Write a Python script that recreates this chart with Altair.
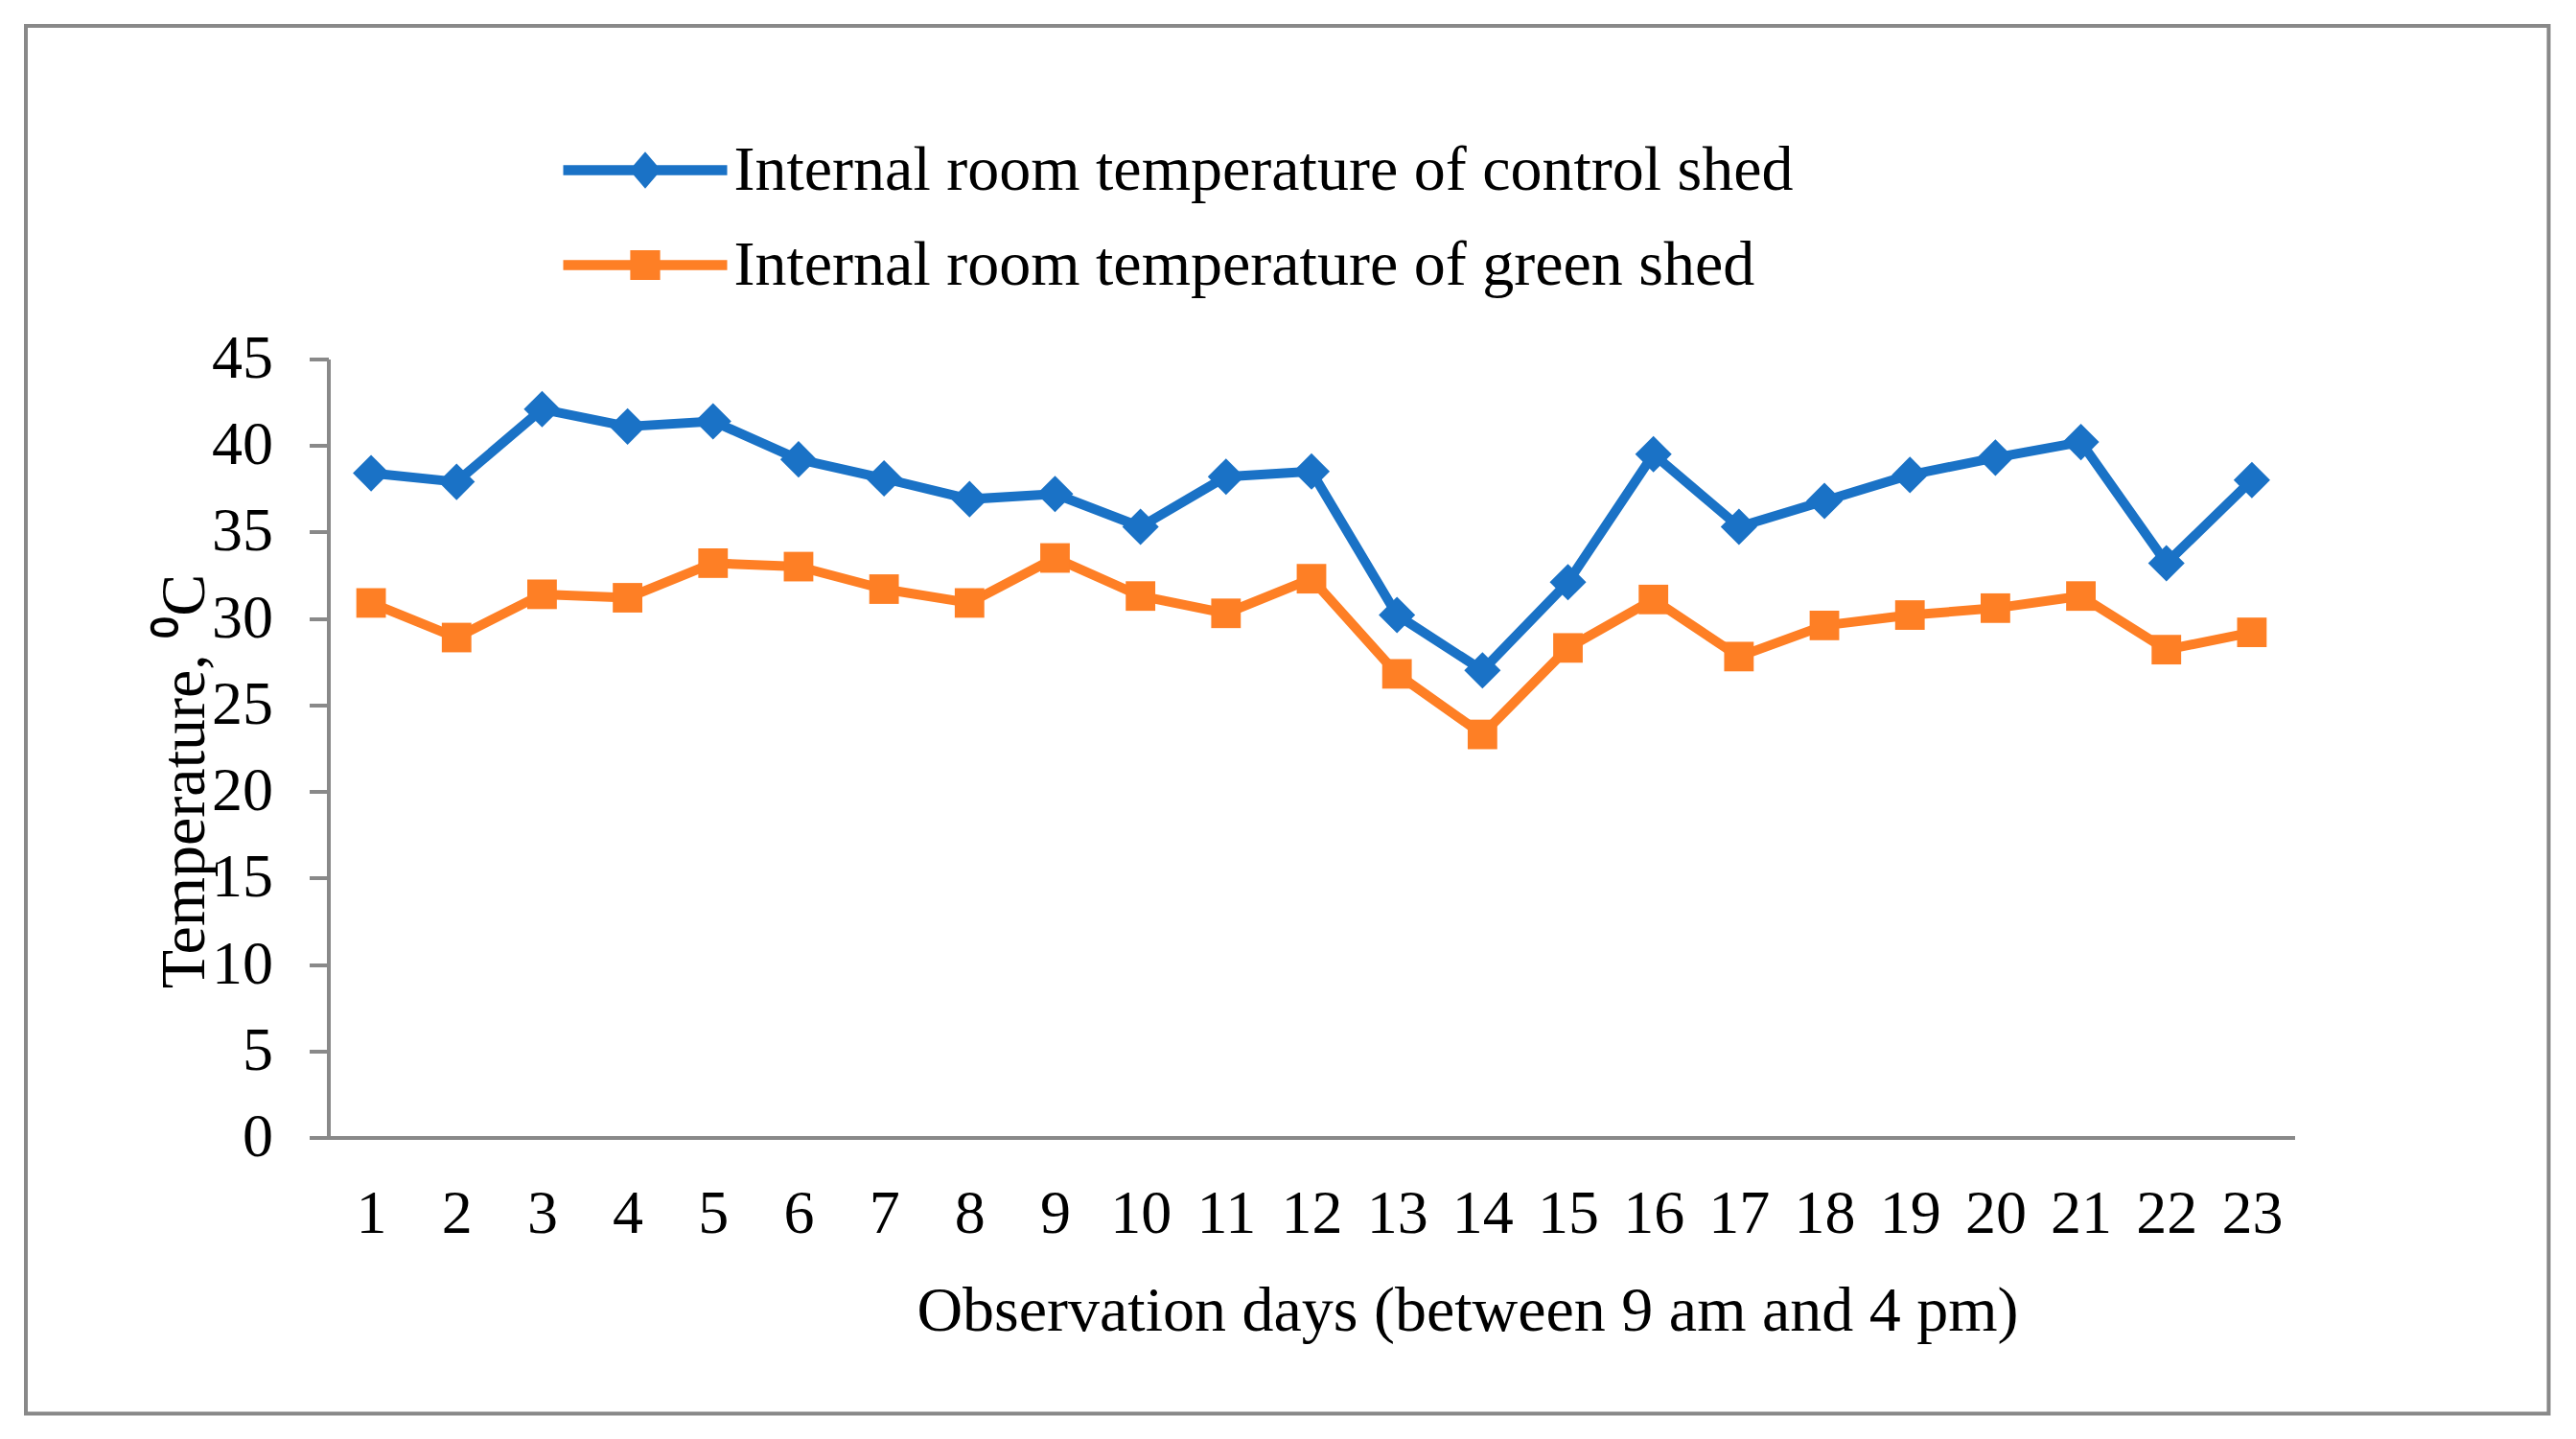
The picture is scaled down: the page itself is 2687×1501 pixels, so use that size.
import altair as alt
import pandas as pd

# ---- data ----
days = list(range(1, 24))
control_shed = [38.4, 37.9, 42.1, 41.1, 41.4, 39.2, 38.1, 36.9, 37.2, 35.3, 38.2, 38.5,
                30.2, 27.0, 32.1, 39.5, 35.3, 36.8, 38.3, 39.3, 40.2, 33.2, 38.0]
green_shed = [30.9, 28.9, 31.4, 31.2, 33.2, 33.0, 31.7, 30.9, 33.5, 31.3, 30.3, 32.3,
              26.8, 23.3, 28.3, 31.1, 27.8, 29.6, 30.2, 30.6, 31.3, 28.2, 29.2]
series_names = ["Internal room temperature of control shed",
                "Internal room temperature of green shed"]
y_ticks = list(range(0, 46, 5))
x_title = "Observation days (between 9 am and 4 pm)"
y_title = "Temperature, \u2070C"

# ---- style ----
BLUE = "#1a72c6"
ORANGE = "#fe7f25"
GRAY = "#898989"
FONT = "Liberation Serif"
W, H = 2051, 812

df = pd.DataFrame({
    "day": days + days,
    "temp": control_shed + green_shed,
    "series": [series_names[0]] * len(days) + [series_names[1]] * len(days),
})

# legend glyphs: line segment with marker on it (custom symbol paths)
path_control = ("M-1,-0.175L4.7,-0.175L4.7,0.175L-1,0.175Z "
                "M1.3,0L1.85,-0.64L2.4,0L1.85,0.64Z")
path_green = ("M-1,-0.175L4.7,-0.175L4.7,0.175L-1,0.175Z "
              "M1.33,-0.52L2.37,-0.52L2.37,0.52L1.33,0.52Z")

x_enc = alt.X(
    "day:O",
    scale=alt.Scale(type="point", padding=0.5),
    axis=alt.Axis(
        title=x_title, labelAngle=0, ticks=False, tickSize=0, labelPadding=48,
        labelFontSize=64, labelColor="black", labelFont=FONT,
        domainColor=GRAY, domainWidth=4,
        titleFont=FONT, titleFontSize=66, titleFontWeight="normal", titleColor="black",
        titleX=1188, titleY=201, titleBaseline="alphabetic", titleAlign="center",
        grid=False,
    ),
)
y_enc = alt.Y(
    "temp:Q",
    scale=alt.Scale(domain=[0, 45], nice=False, zero=True),
    axis=alt.Axis(
        values=y_ticks, title=y_title, grid=False,
        tickSize=20, tickWidth=4, tickColor=GRAY, domainColor=GRAY, domainWidth=4,
        labelPadding=38, labelFontSize=64, labelColor="black", labelFont=FONT,
        titleFont=FONT, titleFontSize=66, titleFontWeight="normal", titleColor="black",
        titleAngle=270, titleX=-130, titleY=440, titleBaseline="alphabetic",
        titleAlign="center",
    ),
)

base = alt.Chart(df)

frame = alt.Chart(pd.DataFrame({"frame": [0]})).mark_rect(
    fill="transparent", stroke=GRAY, strokeWidth=4
).encode(
    x=alt.value(-315.5), x2=alt.value(2316), y=alt.value(-347.5), y2=alt.value(1100)
)

line_c = base.transform_filter(alt.datum.series == series_names[0]).mark_line(
    color=BLUE, strokeWidth=10, strokeJoin="round", strokeCap="round"
).encode(x=x_enc, y=y_enc)
pts_c = base.transform_filter(alt.datum.series == series_names[0]).mark_point(
    shape="diamond", filled=True, color=BLUE, size=1450, opacity=1
).encode(x=x_enc, y=y_enc)
line_g = base.transform_filter(alt.datum.series == series_names[1]).mark_line(
    color=ORANGE, strokeWidth=10, strokeJoin="round", strokeCap="round"
).encode(x=x_enc, y=y_enc)
pts_g = base.transform_filter(alt.datum.series == series_names[1]).mark_point(
    shape="square", filled=True, color=ORANGE, size=950, opacity=1
).encode(x=x_enc, y=y_enc)

legend = alt.Legend(
    orient="none", legendX=242, legendY=-230, title=None, direction="vertical",
    labelFont=FONT, labelFontSize=66, labelColor="black", labelLimit=3000,
    labelOffset=115, rowPadding=33, symbolSize=3600, symbolStrokeWidth=0, padding=0,
)
legend_layer = base.transform_filter("datum.day < 0").mark_point(
    filled=True, opacity=1, size=3600
).encode(
    x=x_enc, y=y_enc,
    color=alt.Color("series:N", scale=alt.Scale(domain=series_names, range=[BLUE, ORANGE]),
                    legend=legend),
    shape=alt.Shape("series:N", scale=alt.Scale(domain=series_names,
                                                range=[path_control, path_green]),
                    legend=legend),
)

chart = alt.layer(frame, line_c, pts_c, line_g, pts_g, legend_layer).properties(
    width=W, height=H,
    padding={"left": 16.5, "top": 16.5, "right": 5, "bottom": 5},
    background="white",
).configure_view(stroke="transparent")

chart.save("out.html", embed_options={"renderer": "svg", "actions": False})
